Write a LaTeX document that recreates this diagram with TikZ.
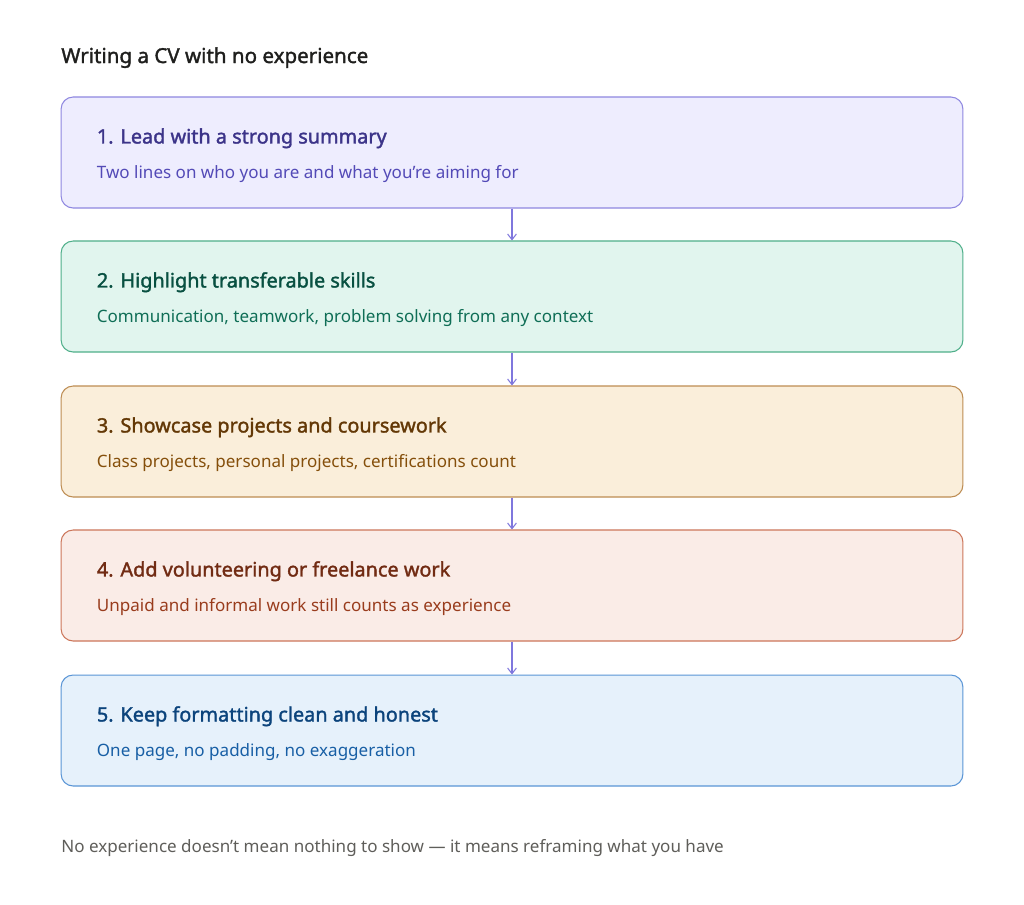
\documentclass[tikz,border=0pt]{standalone}
\usepackage{fontspec}
\setmainfont{Noto Sans}[AutoFakeBold=1.6]
\usetikzlibrary{arrows.meta}

\definecolor{inkTitle}{HTML}{1F1F1D}
\definecolor{inkNote}{HTML}{5F5E5A}
\definecolor{flowLine}{HTML}{7F77DD}
% step palettes
\definecolor{purFill}{HTML}{EEEDFE}\definecolor{purLine}{HTML}{8E87E0}
\definecolor{purHead}{HTML}{3C3489}\definecolor{purSub}{HTML}{534AB7}
\definecolor{tealFill}{HTML}{E1F5EE}\definecolor{tealLine}{HTML}{4FAF8A}
\definecolor{tealHead}{HTML}{085041}\definecolor{tealSub}{HTML}{0F6E56}
\definecolor{ambFill}{HTML}{FAEEDA}\definecolor{ambLine}{HTML}{BD8C52}
\definecolor{ambHead}{HTML}{633806}\definecolor{ambSub}{HTML}{854F0B}
\definecolor{corFill}{HTML}{FAECE7}\definecolor{corLine}{HTML}{CC765A}
\definecolor{corHead}{HTML}{712B13}\definecolor{corSub}{HTML}{993C1D}
\definecolor{bluFill}{HTML}{E6F1FB}\definecolor{bluLine}{HTML}{5A95D6}
\definecolor{bluHead}{HTML}{0C447C}\definecolor{bluSub}{HTML}{185FA5}

\tikzset{
  stepbox/.style={draw, line width=0.6pt, rounded corners=0.24cm, inner sep=0pt,
    minimum width=18.04cm, minimum height=2.22cm},
  headtext/.style={anchor=base west, inner sep=0pt, font=\bfseries\fontsize{11.3}{13}\selectfont},
  subtext/.style={anchor=base west, inner sep=0pt, font=\fontsize{9.7}{11}\selectfont},
  flow/.style={draw=flowLine, line width=0.6pt, -{Straight Barb[length=3.2pt, width=5pt]}}
}

\begin{document}
\begin{tikzpicture}[x=0.02cm, y=-0.02cm]
\useasboundingbox[fill=white] (0,0) rectangle (1024,904);

% Heading
\node[anchor=base west, inner sep=0pt, text=inkTitle, font=\bfseries\fontsize{11.7}{13}\selectfont] (title) at (61,63) {Writing a CV with no experience};

% Five steps
\foreach \i/\y/\c/\head/\sub in {
  1/97/pur/{1. Lead with a strong summary}/{Two lines on who you are and what you're aiming for},
  2/241/teal/{2. Highlight transferable skills}/{Communication, teamwork, problem solving from any context},
  3/386/amb/{3. Showcase projects and coursework}/{Class projects, personal projects, certifications count},
  4/530/cor/{4. Add volunteering or freelance work}/{Unpaid and informal work still counts as experience},
  5/675/blu/{5. Keep formatting clean and honest}/{One page, no padding, no exaggeration}} {
  \node[stepbox, draw=\c Line, fill=\c Fill] (b\i) at (512,\y+55.5) {};
  \node[headtext, text=\c Head] (h\i) at ([shift={(36,47)}]b\i.north west) {\head};
  \node[subtext, text=\c Sub] (s\i) at ([shift={(36,82)}]b\i.north west) {\sub};
}

% Connectors
\foreach \i/\j in {1/2, 2/3, 3/4, 4/5} {
  \draw[flow] (b\i.south) -- (b\j.north);
}

\node[anchor=base west, inner sep=0pt, text=inkNote, font=\fontsize{9.7}{11}\selectfont] (note) at (61,852) {No experience doesn't mean nothing to show — it means reframing what you have};
\end{tikzpicture}
\end{document}
